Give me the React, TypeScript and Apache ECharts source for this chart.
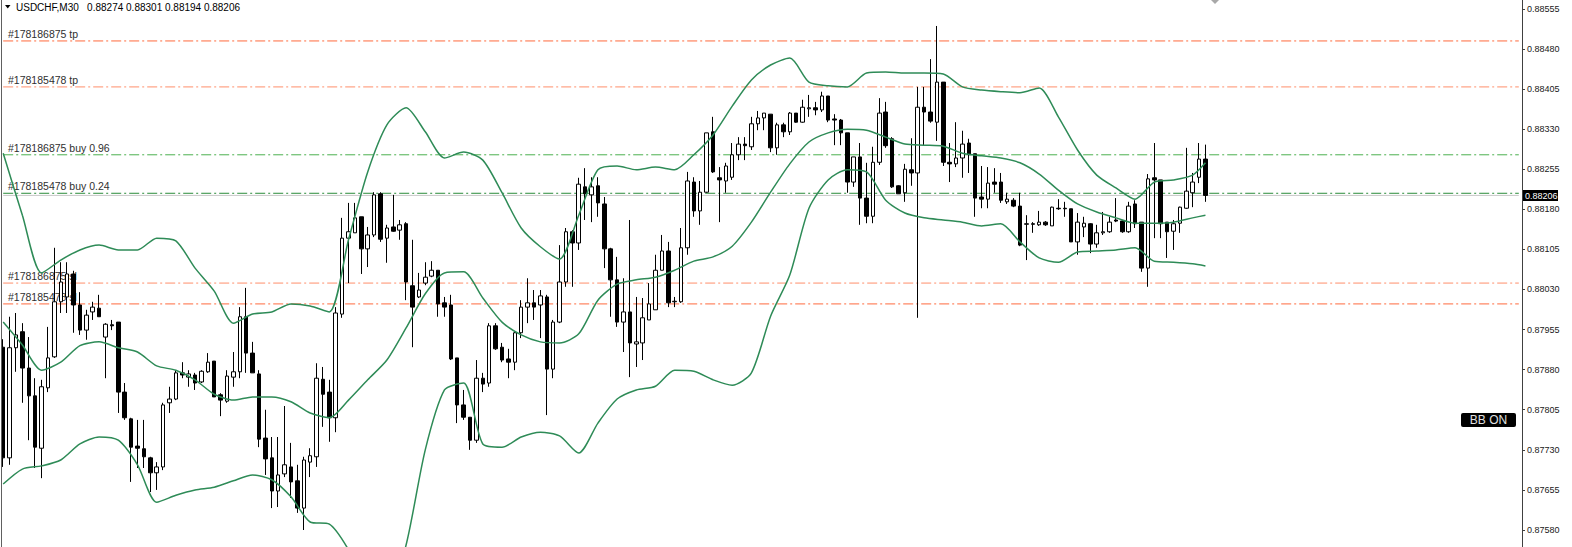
import React, { useEffect, useRef } from "react";
import * as echarts from "echarts";

// ---- data ----
const symbolTitle = "USDCHF,M30";
const lastBar = [0.88274, 0.88301, 0.88194, 0.88206]; // O H L C shown in header

// candles: [open, close, low, high]
const candles: number[][] = [
  [0.87922, 0.87715, 0.87698, 0.87937], [0.87715, 0.87921, 0.87702, 0.87979], [0.87921, 0.87945, 0.87876, 0.87986],
  [0.87951, 0.87883, 0.87818, 0.87967], [0.87883, 0.87831, 0.87748, 0.87941], [0.87831, 0.87735, 0.87696, 0.87864],
  [0.87733, 0.87848, 0.87677, 0.87861], [0.87846, 0.87902, 0.87838, 0.8796], [0.87904, 0.88007, 0.87902, 0.88108],
  [0.88007, 0.88044, 0.87986, 0.88081], [0.88016, 0.88059, 0.87986, 0.88081], [0.88059, 0.88001, 0.87949, 0.88065],
  [0.88001, 0.87954, 0.87945, 0.88025], [0.87954, 0.87982, 0.87936, 0.87992], [0.87988, 0.87997, 0.87973, 0.88007],
  [0.87995, 0.87979, 0.87979, 0.8802], [0.87941, 0.87965, 0.87864, 0.87967], [0.87964, 0.87962, 0.87954, 0.87973],
  [0.87969, 0.87838, 0.87799, 0.87969], [0.87838, 0.8779, 0.87786, 0.87855], [0.87788, 0.87735, 0.8767, 0.8779],
  [0.87737, 0.87733, 0.87696, 0.87786], [0.87732, 0.87717, 0.87696, 0.87786], [0.87715, 0.87687, 0.87651, 0.87717],
  [0.87687, 0.87698, 0.87655, 0.87707], [0.87698, 0.87814, 0.87692, 0.87818], [0.87818, 0.87825, 0.87799, 0.87848],
  [0.87825, 0.87874, 0.87823, 0.87879], [0.87874, 0.8787, 0.87864, 0.87894], [0.87866, 0.87872, 0.87848, 0.87879],
  [0.8787, 0.87855, 0.87842, 0.87874], [0.87857, 0.87877, 0.87855, 0.87879], [0.87876, 0.87894, 0.87874, 0.87911],
  [0.87896, 0.87829, 0.87829, 0.87896], [0.87833, 0.87823, 0.87793, 0.87836], [0.87821, 0.87868, 0.87818, 0.87879],
  [0.87866, 0.87876, 0.87848, 0.87913], [0.87876, 0.87979, 0.87864, 0.87997], [0.87979, 0.87911, 0.87874, 0.88033],
  [0.87911, 0.87874, 0.87874, 0.87932], [0.87872, 0.8775, 0.87735, 0.87879], [0.87752, 0.87713, 0.87683, 0.87805],
  [0.87715, 0.87653, 0.87621, 0.87754], [0.87653, 0.87683, 0.87623, 0.87754], [0.87685, 0.87702, 0.87679, 0.87812],
  [0.87698, 0.8767, 0.8764, 0.87743], [0.87672, 0.87621, 0.87612, 0.87702], [0.87621, 0.87711, 0.8758, 0.87717],
  [0.87707, 0.87719, 0.87679, 0.87733], [0.87717, 0.87864, 0.87698, 0.87892], [0.87862, 0.87834, 0.87773, 0.87885],
  [0.87838, 0.8779, 0.87745, 0.87861], [0.8779, 0.87986, 0.87763, 0.87997], [0.87984, 0.88126, 0.87977, 0.88164],
  [0.88126, 0.88138, 0.88042, 0.88192], [0.88136, 0.88164, 0.88136, 0.88192], [0.88166, 0.88106, 0.88059, 0.88166],
  [0.88106, 0.88132, 0.88072, 0.88147], [0.88132, 0.88207, 0.88128, 0.88212], [0.88209, 0.88124, 0.88119, 0.88212],
  [0.88126, 0.88145, 0.8808, 0.88151], [0.88147, 0.88139, 0.88138, 0.88207], [0.88141, 0.88151, 0.88123, 0.8816],
  [0.88153, 0.88044, 0.8801, 0.88156], [0.88037, 0.87997, 0.87922, 0.88123], [0.88016, 0.88029, 0.88014, 0.88061],
  [0.88042, 0.88053, 0.88038, 0.88081], [0.88055, 0.88066, 0.88053, 0.88083], [0.88066, 0.88003, 0.87979, 0.88066],
  [0.88005, 0.87997, 0.87979, 0.88016], [0.88001, 0.879, 0.87898, 0.8802], [0.87902, 0.87814, 0.8778, 0.87902],
  [0.87814, 0.87791, 0.87786, 0.87842], [0.87791, 0.87748, 0.8773, 0.87791], [0.87748, 0.87864, 0.87743, 0.87898],
  [0.87864, 0.87853, 0.87838, 0.87874], [0.87855, 0.87962, 0.87848, 0.87967], [0.87962, 0.87919, 0.87917, 0.87967],
  [0.87922, 0.87898, 0.87894, 0.8793], [0.879, 0.87894, 0.87864, 0.87919], [0.87894, 0.87949, 0.87879, 0.87951],
  [0.87949, 0.87997, 0.87939, 0.8801], [0.87997, 0.88005, 0.87967, 0.88051], [0.88005, 0.87997, 0.87973, 0.88029],
  [0.88001, 0.88018, 0.87939, 0.88029], [0.88016, 0.87881, 0.87795, 0.8802], [0.87881, 0.87969, 0.87864, 0.87973],
  [0.87969, 0.88044, 0.87967, 0.88113], [0.88044, 0.88138, 0.88035, 0.88145], [0.88138, 0.88117, 0.88035, 0.88141],
  [0.88117, 0.88227, 0.88104, 0.88239], [0.88222, 0.88209, 0.8816, 0.88257], [0.88207, 0.88222, 0.88156, 0.8824],
  [0.88224, 0.88192, 0.88166, 0.8824], [0.8819, 0.88106, 0.8807, 0.88203], [0.88106, 0.88048, 0.87979, 0.88108],
  [0.88048, 0.87969, 0.8796, 0.88091], [0.87969, 0.87988, 0.87913, 0.88051], [0.87988, 0.8793, 0.87866, 0.8816],
  [0.87928, 0.87932, 0.87885, 0.88016], [0.8793, 0.87977, 0.87898, 0.88014], [0.87973, 0.88003, 0.87973, 0.88042],
  [0.87992, 0.88066, 0.87992, 0.88095], [0.88066, 0.88102, 0.88066, 0.88132], [0.88102, 0.88005, 0.87997, 0.88119],
  [0.88007, 0.88008, 0.87997, 0.88016], [0.88007, 0.88108, 0.88005, 0.88145], [0.88108, 0.88233, 0.88095, 0.8825],
  [0.88231, 0.88177, 0.88166, 0.8824], [0.88177, 0.88212, 0.88151, 0.88233], [0.88212, 0.88323, 0.88211, 0.88323],
  [0.88325, 0.8825, 0.88248, 0.88353], [0.88239, 0.88235, 0.88156, 0.88259], [0.88233, 0.88261, 0.88211, 0.88267],
  [0.8824, 0.88282, 0.88235, 0.88304], [0.88282, 0.88302, 0.88272, 0.88315], [0.88302, 0.88299, 0.88272, 0.88315],
  [0.88297, 0.8834, 0.88291, 0.88353], [0.8834, 0.88351, 0.88328, 0.88364], [0.88351, 0.8836, 0.88328, 0.8836],
  [0.88358, 0.88295, 0.88287, 0.88358], [0.88295, 0.88338, 0.88282, 0.88342], [0.88338, 0.88325, 0.88315, 0.88342],
  [0.88325, 0.8836, 0.88319, 0.88362], [0.8836, 0.88343, 0.88342, 0.8836], [0.88343, 0.88371, 0.88342, 0.88385],
  [0.88368, 0.8837, 0.88353, 0.88394], [0.8837, 0.88366, 0.88356, 0.88381], [0.88366, 0.88392, 0.88362, 0.884],
  [0.88392, 0.88347, 0.88343, 0.88392], [0.88349, 0.88347, 0.883, 0.88358], [0.88347, 0.88323, 0.883, 0.88349],
  [0.88323, 0.88231, 0.88211, 0.88323], [0.88231, 0.88278, 0.88222, 0.88278], [0.88278, 0.88201, 0.88151, 0.88304],
  [0.88201, 0.88167, 0.88154, 0.88267], [0.88167, 0.88268, 0.88154, 0.88297], [0.88268, 0.8836, 0.88263, 0.88388],
  [0.88362, 0.88299, 0.88295, 0.88381], [0.88312, 0.88222, 0.8822, 0.88315], [0.88224, 0.88209, 0.88209, 0.88225],
  [0.88211, 0.88255, 0.88194, 0.88265], [0.88254, 0.88248, 0.88224, 0.88313], [0.88248, 0.88371, 0.87977, 0.88409],
  [0.88371, 0.88362, 0.88299, 0.88409], [0.88362, 0.88345, 0.88342, 0.88461], [0.88343, 0.88418, 0.88308, 0.88523],
  [0.88418, 0.88268, 0.88261, 0.88418], [0.88268, 0.88265, 0.88231, 0.88304], [0.88265, 0.88276, 0.88259, 0.88343],
  [0.88276, 0.88302, 0.88239, 0.88327], [0.88304, 0.88282, 0.88248, 0.88312], [0.88284, 0.88201, 0.88166, 0.88284],
  [0.88203, 0.88199, 0.88182, 0.88261], [0.88199, 0.88229, 0.88182, 0.88259], [0.88231, 0.88227, 0.88211, 0.88257],
  [0.88231, 0.88197, 0.88192, 0.88248], [0.88194, 0.88199, 0.8819, 0.88211], [0.88197, 0.88186, 0.88184, 0.88201],
  [0.88186, 0.88113, 0.88111, 0.88211], [0.88152, 0.88153, 0.88085, 0.88169], [0.88153, 0.88152, 0.88136, 0.88156],
  [0.88151, 0.88156, 0.88149, 0.88177], [0.88156, 0.88151, 0.88149, 0.88158], [0.88149, 0.88184, 0.88149, 0.88185],
  [0.88182, 0.88181, 0.88179, 0.88199], [0.88182, 0.88181, 0.88166, 0.88194], [0.88181, 0.88119, 0.88119, 0.88181],
  [0.88119, 0.88156, 0.88095, 0.88173], [0.88147, 0.88154, 0.88128, 0.88166], [0.88153, 0.88115, 0.88098, 0.88154],
  [0.88115, 0.88136, 0.88108, 0.88151], [0.88136, 0.88138, 0.88132, 0.88175], [0.88138, 0.88156, 0.88136, 0.88166],
  [0.8816, 0.88158, 0.88156, 0.88201], [0.88158, 0.88138, 0.88136, 0.8816], [0.88138, 0.88186, 0.88136, 0.88194],
  [0.8819, 0.88153, 0.88145, 0.88197], [0.88156, 0.8807, 0.88063, 0.88156], [0.8807, 0.88237, 0.88035, 0.88246],
  [0.88239, 0.88235, 0.88126, 0.88304], [0.88235, 0.88153, 0.88126, 0.88235], [0.88156, 0.88138, 0.88089, 0.88156],
  [0.88139, 0.88153, 0.88104, 0.8816], [0.88154, 0.88184, 0.88136, 0.88185], [0.88182, 0.88214, 0.88181, 0.88295],
  [0.88211, 0.88231, 0.88184, 0.88248], [0.8824, 0.88274, 0.88229, 0.88304], [0.88274, 0.88206, 0.88194, 0.88301],
];

// Bollinger band readings, sampled at these candle indices
const bandIndex = [
  0, 3, 6, 9, 12, 15, 18, 21, 24, 27, 30, 33, 36, 39, 42, 45, 48, 51, 54, 57, 60, 63, 66, 69, 72, 75, 78, 81, 84, 87,
  90, 93, 96, 99, 102, 105, 108, 111, 114, 117, 120, 123, 126, 129, 132, 135, 138, 141, 144, 147, 150, 153, 156, 159,
  162, 165, 168, 171, 174, 177, 180, 183, 186, 188,
];
const bbUpper = [
  0.88285, 0.88169, 0.88061, 0.88085, 0.88104, 0.88113, 0.88104, 0.88104, 0.88126, 0.88121,
  0.8807, 0.88027, 0.87967, 0.87984, 0.87988, 0.88003, 0.87999, 0.87988, 0.88123, 0.8825,
  0.88338, 0.8837, 0.88325, 0.88276, 0.88287, 0.88272, 0.88211, 0.88145, 0.8811, 0.88087,
  0.88169, 0.88254, 0.88261, 0.88254, 0.88259, 0.88254, 0.88282, 0.88319, 0.88373, 0.88422,
  0.8845, 0.88463, 0.88418, 0.88411, 0.88409, 0.88435, 0.88437, 0.88435, 0.88435, 0.88433,
  0.88409, 0.88403, 0.884, 0.88398, 0.88407, 0.88353, 0.88291, 0.88244, 0.8822, 0.88199,
  0.88231, 0.88235, 0.88244, 0.88267,
];
const bbMiddle = [
  0.87969, 0.87926, 0.87879, 0.87894, 0.87925, 0.87932, 0.87921, 0.87913, 0.87887, 0.87879,
  0.87861, 0.87834, 0.87823, 0.87829, 0.87829, 0.8782, 0.87799, 0.8779, 0.87823, 0.87861,
  0.87898, 0.87958, 0.88022, 0.88061, 0.88063, 0.88014, 0.87969, 0.87945, 0.87932, 0.8793,
  0.87947, 0.8801, 0.8804, 0.88048, 0.88053, 0.88066, 0.88083, 0.88091, 0.88111, 0.88156,
  0.88212, 0.88265, 0.88306, 0.88323, 0.8833, 0.88328, 0.88315, 0.88302, 0.883, 0.88298,
  0.88285, 0.8828, 0.88276, 0.88267, 0.88246, 0.88216, 0.8819, 0.88175, 0.88164, 0.88154,
  0.88154, 0.88156, 0.88164, 0.88169,
];
const bbLower = [
  0.87666, 0.87694, 0.877, 0.87711, 0.87741, 0.87754, 0.87748, 0.87702, 0.87632, 0.87645,
  0.87655, 0.8766, 0.87672, 0.87683, 0.87674, 0.87642, 0.87595, 0.87591, 0.87543, 0.87468,
  0.87449, 0.87552, 0.8773, 0.87842, 0.87855, 0.87741, 0.87735, 0.87754, 0.87763, 0.87756,
  0.87724, 0.8778, 0.87825, 0.87842, 0.87849, 0.87879, 0.87877, 0.87861, 0.87851, 0.87874,
  0.8798, 0.88057, 0.88182, 0.88235, 0.88254, 0.8825, 0.88197, 0.88173, 0.88164, 0.8816,
  0.88156, 0.88149, 0.88153, 0.88119, 0.88089, 0.88081, 0.881, 0.88102, 0.88104, 0.88108,
  0.88083, 0.88081, 0.88078, 0.88074,
];

const yTicks = [
  0.8758, 0.87655, 0.8773, 0.87805, 0.8788, 0.87955, 0.8803, 0.88105, 0.8818, 0.88255, 0.8833, 0.88405, 0.8848, 0.88555,
];

const orderLevels = [0.88495, 0.88409, 0.88282, 0.8821, 0.88042, 0.88003];
const orderLabels = [
  "#178186875 tp",
  "#178185478 tp",
  "#178186875 buy 0.96",
  "#178185478 buy 0.24",
  "#178186875 sl",
  "#178185478 sl",
];
const bidPrice = 0.88206;
const indicatorTag = "BB ON";

// ---- layout / style ----
const slotCount = 238;
const yMin = 0.875482;
const yMax = 0.885716;
const orderColors = ["#FF6A3D", "#FF8F6B", "#4CB050", "#2A8C3A", "#FF8F6B", "#FF6A3D"];
const bandColor = "#2E8B57";
const FONT = '"Liberation Sans", Arial, sans-serif';

export default function App() {
  const ref = useRef<HTMLDivElement>(null);

  useEffect(() => {
    document.body.style.margin = "0";
    const chart = echarts.init(ref.current as HTMLDivElement, null, { renderer: "svg" });
    const categories = Array.from({ length: slotCount }, (_, i) => String(i));
    const dashDot = [10, 3, 2, 3];
    const first = 0;
    const last = slotCount - 1;

    // horizontal order lines: each a two-point line series across the plot
    const orderSeries = orderLevels.map((v, i) => ({
      type: "line",
      name: orderLabels[i],
      data: [
        [first, v],
        [last, v],
      ],
      symbol: "none",
      silent: true,
      z: 1,
      lineStyle: { color: orderColors[i], type: dashDot, width: 1 },
    }));

    const bidSeries = {
      type: "line",
      name: "bid",
      data: [
        [first, bidPrice],
        [last, bidPrice],
      ],
      symbol: "none",
      silent: true,
      z: 1,
      lineStyle: { color: "#C8C8C8", type: "solid", width: 1 },
    };

    const bandSeries = (data: number[], name: string) => ({
      type: "line",
      name,
      data: bandIndex.map((k, i) => [k, data[i]]),
      symbol: "none",
      smooth: 0.25,
      silent: true,
      clip: true,
      z: 3,
      lineStyle: { color: bandColor, width: 1.5 },
    });

    const headerText = symbolTitle + "   " + lastBar.map((v) => v.toFixed(5)).join(" ");

    const baseGraphic: any[] = [
      {
        type: "line",
        shape: { x1: 1.5, y1: 0, x2: 1.5, y2: 547 },
        style: { stroke: "#606060", lineWidth: 1 },
        z: 10,
      },
      {
        type: "polygon",
        shape: { points: [[5, 5], [10.5, 5], [7.75, 8.5]] },
        style: { fill: "#000000" },
      },
      {
        type: "text",
        x: 16,
        y: 2,
        style: { text: headerText, fill: "#000000", font: `10px ${FONT}` },
      },
      {
        type: "polygon",
        shape: { points: [[1211, 0], [1219, 0], [1215, 4]] },
        style: { fill: "#A8A8A8" },
      },
      {
        type: "group",
        children: [
          {
            type: "rect",
            shape: { x: 1461, y: 413, width: 55, height: 14, r: 2 },
            style: { fill: "#000000" },
          },
          {
            type: "text",
            x: 1488.5,
            y: 420,
            style: {
              text: indicatorTag,
              fill: "#E0E0E0",
              font: `12px ${FONT}`,
              align: "center",
              verticalAlign: "middle",
            },
          },
        ],
      },
    ];

    const option: any = {
      animation: false,
      backgroundColor: "#FFFFFF",
      grid: { left: 0, right: 50, top: 0, bottom: 0, containLabel: false },
      xAxis: {
        type: "category",
        data: categories,
        boundaryGap: true,
        show: false,
      },
      yAxis: {
        type: "value",
        position: "right",
        min: yMin,
        max: yMax,
        axisLine: { show: true, lineStyle: { color: "#404040", width: 1 } },
        axisTick: { show: true, length: 3, customValues: yTicks, lineStyle: { color: "#404040" } },
        axisLabel: {
          show: true,
          customValues: yTicks,
          formatter: (v: number) => v.toFixed(5),
          color: "#202020",
          fontSize: 9,
          fontFamily: FONT,
          margin: 5,
        },
        splitLine: { show: false },
      },
      series: [
        ...orderSeries,
        bidSeries,
        {
          type: "candlestick",
          name: "USDCHF",
          data: candles,
          barWidth: 4,
          z: 2,
          silent: true,
          itemStyle: {
            color: "#FFFFFF",
            color0: "#000000",
            borderColor: "#000000",
            borderColor0: "#000000",
            borderWidth: 1,
          },
        },
        bandSeries(bbUpper, "upper"),
        bandSeries(bbMiddle, "middle"),
        bandSeries(bbLower, "lower"),
      ],
      graphic: baseGraphic,
    };
    chart.setOption(option);

    // labels placed at the price positions of the order lines and the bid tag on the axis
    const labelGraphic: any[] = orderLevels.map((v, i) => {
      const py = chart.convertToPixel({ yAxisIndex: 0 }, v) as number;
      return {
        type: "text",
        x: 8,
        y: py - 1.5,
        z: 1,
        style: {
          text: orderLabels[i],
          fill: "#303030",
          font: `10.5px ${FONT}`,
          verticalAlign: "bottom",
        },
      };
    });
    const bidY = chart.convertToPixel({ yAxisIndex: 0 }, bidPrice) as number;
    labelGraphic.push({
      type: "group",
      children: [
        {
          type: "rect",
          shape: { x: 1523, y: bidY - 5.5, width: 35, height: 11 },
          style: { fill: "#000000" },
        },
        {
          type: "text",
          x: 1525,
          y: bidY + 0.5,
          style: {
            text: bidPrice.toFixed(5),
            fill: "#FFFFFF",
            font: `9px ${FONT}`,
            verticalAlign: "middle",
          },
        },
      ],
    });

    chart.setOption({ graphic: [...baseGraphic, ...labelGraphic] }, { replaceMerge: ["graphic"] });

    return () => chart.dispose();
  }, []);

  return (
    <div ref={ref} style={{ position: "absolute", left: 0, top: 0, width: 1572, height: 547 }} />
  );
}
